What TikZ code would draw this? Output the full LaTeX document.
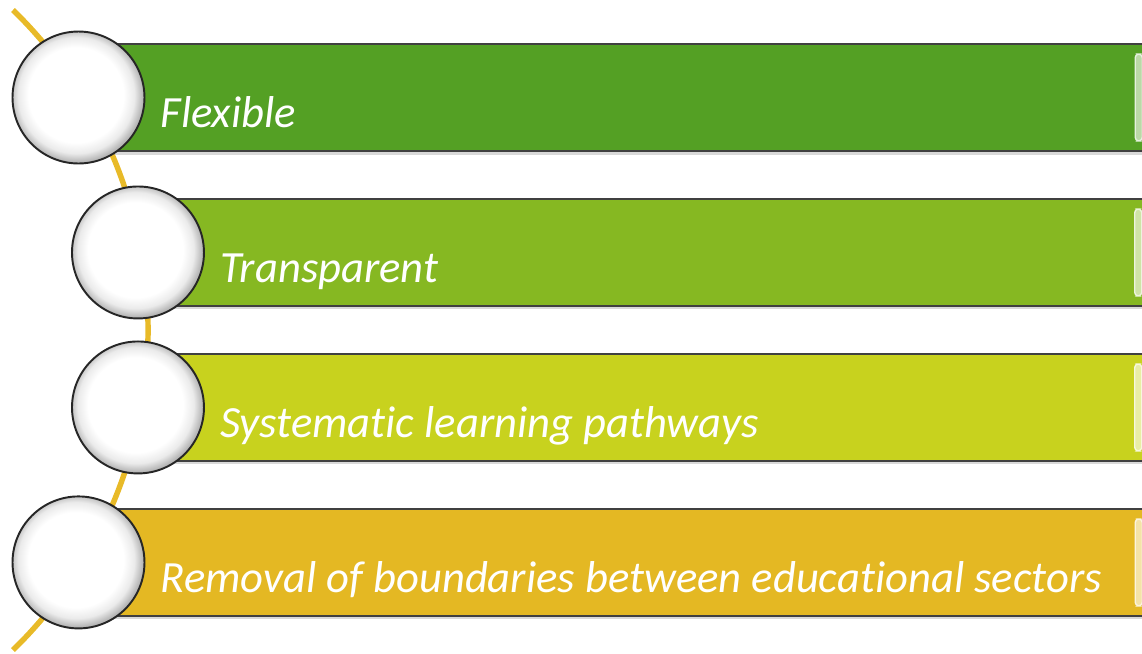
\documentclass[tikz,border=0pt]{standalone}
\usepackage{fontspec}
\setmainfont[Ligatures=NoCommon]{Carlito}
\usetikzlibrary{positioning,backgrounds,shadows,calc}
\definecolor{trackgold}{RGB}{232,186,40}
\definecolor{flexgreen}{RGB}{84,160,36}
\definecolor{transgreen}{RGB}{134,184,34}
\definecolor{syslime}{RGB}{200,210,30}
\definecolor{remgold}{RGB}{228,184,35}
\pgfdeclareradialshading{discball}{\pgfpoint{-1.5bp}{1.5bp}}{color(0bp)=(white); color(18bp)=(white); color(22bp)=(black!8); color(25bp)=(black!28); color(50bp)=(black!28)}
\newcommand{\itemfont}{\fontsize{25.4pt}{30pt}\selectfont\itshape}

\begin{document}
\begin{tikzpicture}[x=0.02cm, y=-0.02cm]
\tikzstyle{disc}=[circle, draw=black!85, line width=1.1pt, minimum size=2.64cm, shade, shading=discball, node distance=3.1cm]
\tikzstyle{rowbar}=[rectangle, anchor=west, draw=black!75, line width=1.1pt, minimum height=2.14cm, inner sep=0pt, drop shadow={shadow xshift=0pt, shadow yshift=-2pt, opacity=0.3}]
\tikzstyle{bevel}=[rounded corners=2pt, line width=0.8pt]
\tikzstyle{itemtext}=[text=white, font=\itemfont, inner sep=0pt, text height=0.72em, text depth=0.25em]
\tikzstyle{track}=[draw=trackgold, line width=3.1pt]

\useasboundingbox (0,0) rectangle (1142,653);

  \node[disc] (flex)    at (78.5,97.5)                    {};
  \node[disc] (trans)   [below of =flex,  xshift=1.19cm]  {};
  \node[disc] (sys)     [below of =trans]                 {};
  \node[disc] (removal) [below of =sys,   xshift=-1.19cm] {};

  \begin{scope}[on background layer]
    \coordinate (trackTop) at (13,10);
    \draw[track] (trackTop) arc[start angle=-45.76, end angle=45.76, radius=446.7];

    \node[rowbar, fill=flexgreen,  minimum width=21.32cm] (flexbar)    at (flex.center)    {};
    \node[rowbar, fill=transgreen, minimum width=20.12cm] (transbar)   at (trans.center)   {};
    \node[rowbar, fill=syslime,    minimum width=20.12cm] (sysbar)     at (sys.center)     {};
    \node[rowbar, fill=remgold,    minimum width=21.32cm] (removalbar) at (removal.center) {};
  \end{scope}

  % right end of each bar
  \filldraw[bevel, fill=flexgreen!40!white,  draw=flexgreen!15!white]  ($(flexbar.north east)+(-11,11)$)    rectangle ($(flexbar.south east)+(-4,-11)$);
  \filldraw[bevel, fill=transgreen!40!white, draw=transgreen!15!white] ($(transbar.north east)+(-11,11)$)   rectangle ($(transbar.south east)+(-4,-11)$);
  \filldraw[bevel, fill=syslime!40!white,    draw=syslime!15!white]    ($(sysbar.north east)+(-11,11)$)     rectangle ($(sysbar.south east)+(-4,-11)$);
  \filldraw[bevel, fill=remgold!40!white,    draw=remgold!15!white]    ($(removalbar.north east)+(-11,11)$) rectangle ($(removalbar.south east)+(-4,-11)$);

  \node[itemtext, right=0.3cm of flex,    yshift=-0.52cm] (flextxt)    {Flexible};
  \node[itemtext, right=0.3cm of trans,   yshift=-0.52cm] (transtxt)   {Transparent};
  \node[itemtext, right=0.3cm of sys,     yshift=-0.52cm] (systxt)     {Systematic learning pathways};
  \node[itemtext, right=0.3cm of removal, yshift=-0.52cm] (removaltxt) {Removal of boundaries between educational sectors};

\end{tikzpicture}
\end{document}
